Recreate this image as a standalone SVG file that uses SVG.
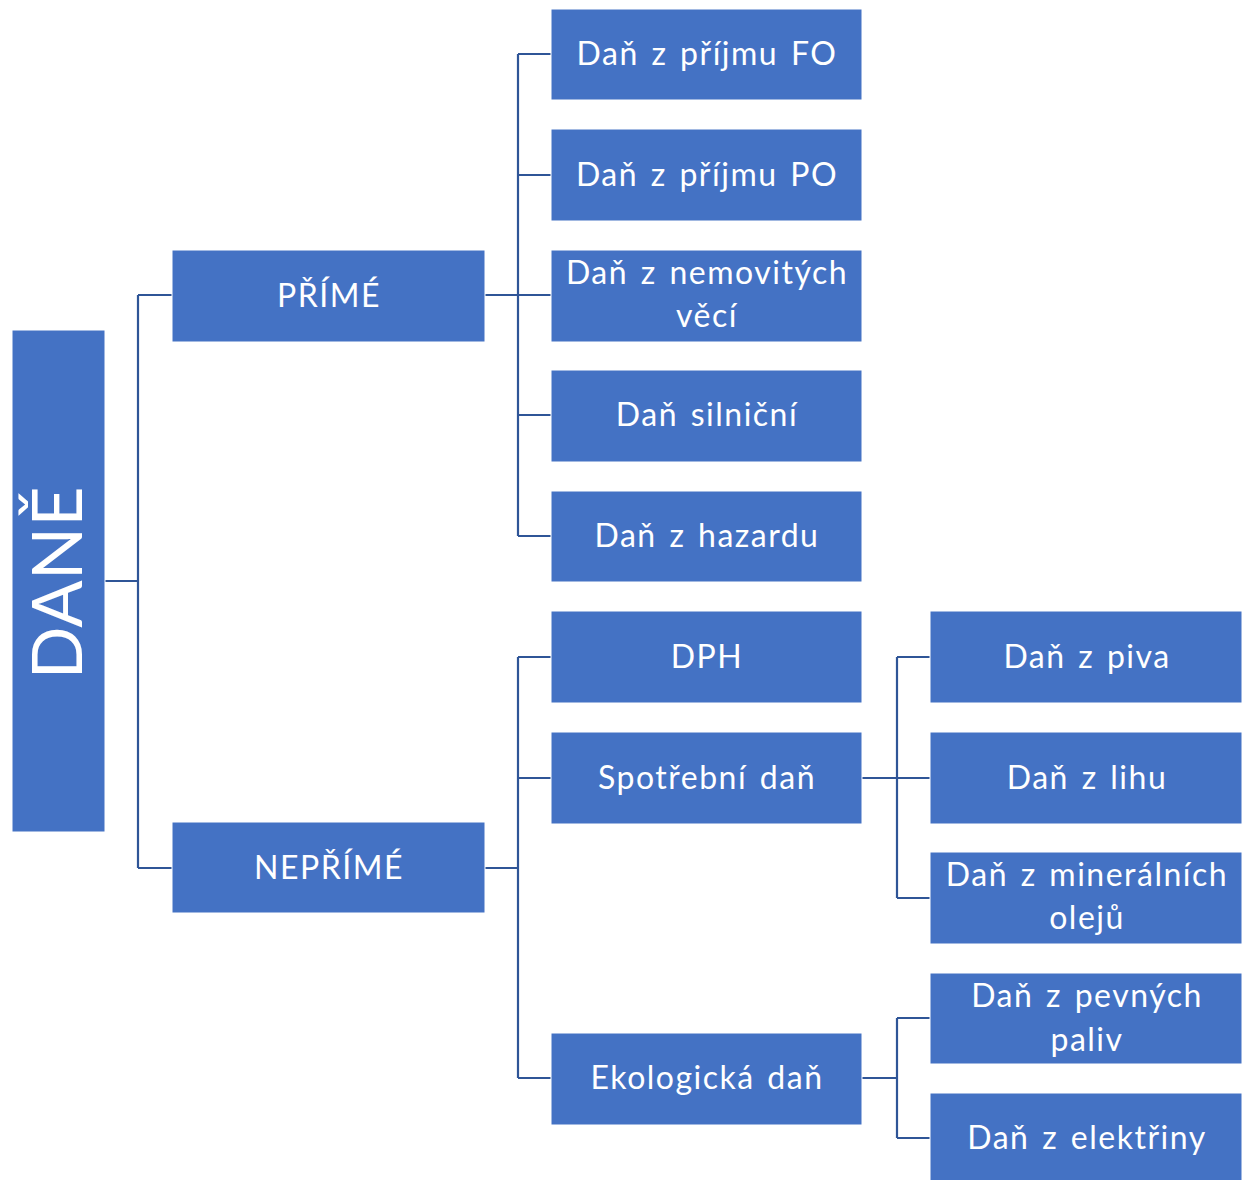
<svg xmlns="http://www.w3.org/2000/svg" width="1245" height="1180" viewBox="0 0 1245 1180">
<style>
.box{fill:#4472C4;stroke:#ffffff;stroke-width:1}
.t{font-family:Lato,"Open Sans","Liberation Sans",sans-serif;font-size:32px;letter-spacing:1.5px;word-spacing:3px;fill:#ffffff;text-anchor:middle}
.big{font-family:Lato,"Open Sans","Liberation Sans",sans-serif;font-size:70px;fill:#ffffff;text-anchor:middle}
.c{fill:none;stroke:#2F5597;stroke-width:2.2}
</style>
<rect width="1245" height="1180" fill="#ffffff"/>
<g id="connectors">
<path class="c" d="M105,581 H138 M138,295 V868 M138,295 H172 M138,868 H172"/>
<path class="c" d="M485,295 H551 M518,54 V536 M518,54 H551 M518,175 H551 M518,415 H551 M518,536 H551"/>
<path class="c" d="M485,868 H518 M518,657 V1078 M518,657 H551 M518,778 H551 M518,1078 H551"/>
<path class="c" d="M862,778 H930 M897,657 V898 M897,657 H930 M897,898 H930"/>
<path class="c" d="M862,1078 H897 M897,1018 V1138 M897,1018 H930 M897,1138 H930"/>
</g>
<g id="dane"><rect class="box" x="12" y="330" width="93" height="502"/><text class="big" transform="translate(82,583) rotate(-90)">DANĚ</text></g>
<g id="prime"><rect class="box" x="172" y="250" width="313" height="92"/><text class="t" x="329" y="307">PŘÍMÉ</text></g>
<g id="neprime"><rect class="box" x="172" y="822" width="313" height="91"/><text class="t" x="329" y="879">NEPŘÍMÉ</text></g>
<g id="fo"><rect class="box" x="551" y="9" width="311" height="91"/><text class="t" x="707" y="65">Daň z příjmu FO</text></g>
<g id="po"><rect class="box" x="551" y="129" width="311" height="92"/><text class="t" x="707" y="186">Daň z příjmu PO</text></g>
<g id="nemovitosti"><rect class="box" x="551" y="250" width="311" height="92"/><text class="t" x="707" y="284">Daň z nemovitých</text><text class="t" x="707" y="327">věcí</text></g>
<g id="silnicni"><rect class="box" x="551" y="370" width="311" height="92"/><text class="t" x="707" y="426">Daň silniční</text></g>
<g id="hazard"><rect class="box" x="551" y="491" width="311" height="91"/><text class="t" x="707" y="547">Daň z hazardu</text></g>
<g id="dph"><rect class="box" x="551" y="611" width="311" height="92"/><text class="t" x="707" y="668">DPH</text></g>
<g id="spotrebni"><rect class="box" x="551" y="732" width="311" height="92"/><text class="t" x="707" y="789">Spotřební daň</text></g>
<g id="ekologicka"><rect class="box" x="551" y="1033" width="311" height="92"/><text class="t" x="707" y="1089">Ekologická daň</text></g>
<g id="pivo"><rect class="box" x="930" y="611" width="312" height="92"/><text class="t" x="1087" y="668">Daň z piva</text></g>
<g id="lih"><rect class="box" x="930" y="732" width="312" height="92"/><text class="t" x="1087" y="789">Daň z lihu</text></g>
<g id="oleje"><rect class="box" x="930" y="852" width="312" height="92"/><text class="t" x="1087" y="886">Daň z minerálních</text><text class="t" x="1087" y="929">olejů</text></g>
<g id="paliva"><rect class="box" x="930" y="973" width="312" height="91"/><text class="t" x="1087" y="1007">Daň z pevných</text><text class="t" x="1087" y="1051">paliv</text></g>
<g id="elektrina"><rect class="box" x="930" y="1093" width="312" height="92"/><text class="t" x="1087" y="1149">Daň z elektřiny</text></g>
</svg>
